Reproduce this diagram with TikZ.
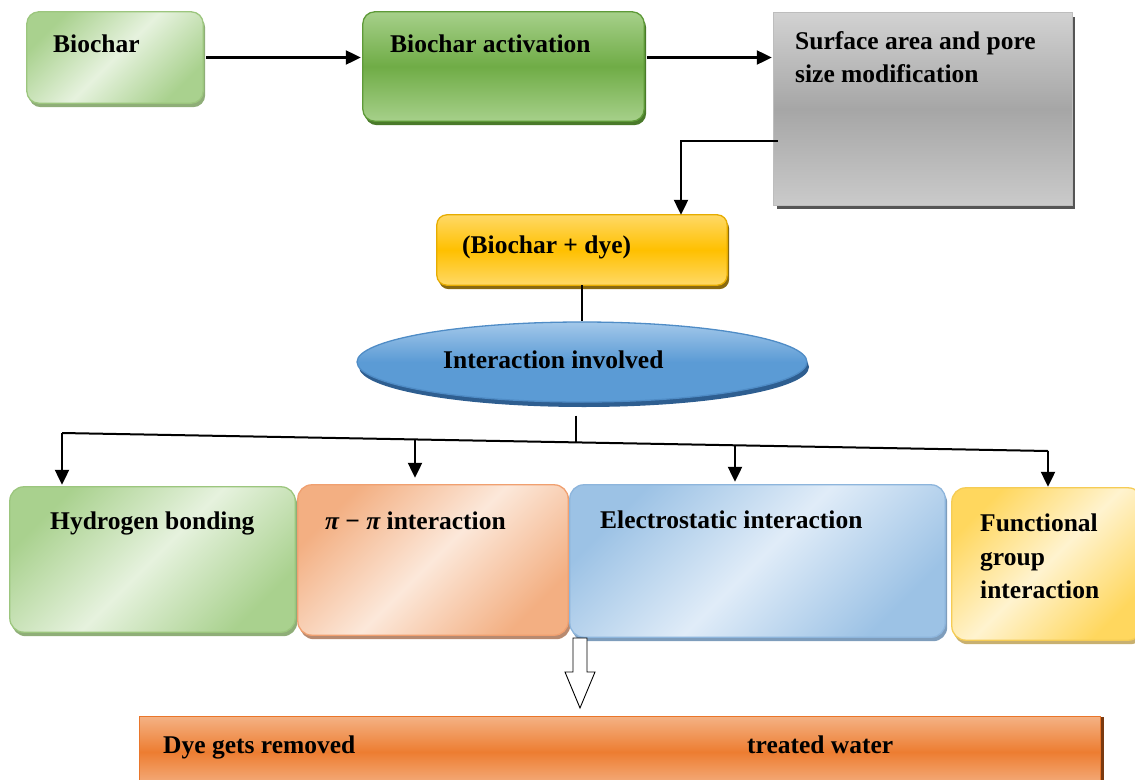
\documentclass[tikz,border=0pt]{standalone}
\usepackage{fontspec}
\setmainfont{Liberation Serif}
\usetikzlibrary{arrows.meta,shapes.geometric,shadows}
\definecolor{lgA}{HTML}{A9D18E}
\definecolor{lgB}{HTML}{E6F2DE}
\definecolor{lgE}{HTML}{9CC67E}
\definecolor{lgS}{HTML}{8FAE78}
\definecolor{dgM}{HTML}{6FAC46}
\definecolor{dgT}{HTML}{A6D08A}
\definecolor{dgE}{HTML}{5E9A38}
\definecolor{dgS}{HTML}{4A7A2A}
\definecolor{gyT}{HTML}{D2D2D2}
\definecolor{gyM}{HTML}{A6A6A6}
\definecolor{gyB}{HTML}{CACACA}
\definecolor{gyE}{HTML}{BDBDBD}
\definecolor{gyS}{HTML}{555555}
\definecolor{yeT}{HTML}{FFD966}
\definecolor{yeM}{HTML}{FFC000}
\definecolor{yeE}{HTML}{E6AC00}
\definecolor{yeS}{HTML}{8A6A10}
\definecolor{blT}{HTML}{A3C8EA}
\definecolor{blM}{HTML}{5B9BD5}
\definecolor{blE}{HTML}{4F8CC6}
\definecolor{blS}{HTML}{2E5E90}
\definecolor{orA}{HTML}{F3AF82}
\definecolor{orB}{HTML}{FCE8DA}
\definecolor{orE}{HTML}{F0A070}
\definecolor{orS}{HTML}{B88A70}
\definecolor{lbA}{HTML}{9CC2E5}
\definecolor{lbB}{HTML}{E0ECF8}
\definecolor{lbE}{HTML}{8DB5DC}
\definecolor{lbS}{HTML}{7E9DBC}
\definecolor{lyA}{HTML}{FFD75E}
\definecolor{lyB}{HTML}{FFF3CF}
\definecolor{lyE}{HTML}{F5CC55}
\definecolor{lyS}{HTML}{C8B070}
\definecolor{obT}{HTML}{F4B183}
\definecolor{obM}{HTML}{ED7D31}
\definecolor{obE}{HTML}{E9762B}
\definecolor{obS}{HTML}{7A3A10}
% #1 node name, #2 shadow colour, #3 shading options, #4 edge colour, #5 corner radius, #6 shadow shift
\newcommand\mkbox[6]{%
  \fill[#2, rounded corners=#5]
    ([shift={#6}]#1.north west) -- ([shift={#6}]#1.north east) --
    ([shift={#6}]#1.south east) -- ([shift={#6}]#1.south west) -- cycle;
  \shade[#3, draw=#4, line width=1.3pt, rounded corners=#5]
    (#1.north west) -- (#1.north east) -- (#1.south east) -- (#1.south west) -- cycle;}
\begin{document}
\begin{tikzpicture}[x=1pt,y=-1pt,
  bx/.style={inner sep=0pt, draw=none},
  vshade/.style n args={3}{top color=#1, bottom color=#3, middle color=#2},
  dshade/.style 2 args={left color=#1, right color=#1, middle color=#2, shading angle=45},
  lbl/.style={anchor=base west, inner sep=0pt, font=\bfseries\fontsize{25.5}{30}\selectfont},
  conn/.style={line width=2.2pt, -{Triangle[length=15pt,width=14pt]}},
  plain/.style={line width=2pt}]
\useasboundingbox (0,0) rectangle (1135,779);

% anchor nodes of the boxes
\node[bx, minimum width=176, minimum height=91] (b1) at (115,57.5) {};
\node[bx, minimum width=281, minimum height=109] (b2) at (503.5,66.5) {};
\node[bx, minimum width=298, minimum height=192] (b3) at (923,109) {};
\node[bx, minimum width=290, minimum height=70] (b4) at (582,250) {};
\node[bx, minimum width=285, minimum height=145] (h) at (152.5,559.5) {};
\node[bx, minimum width=270, minimum height=150] (p) at (433,560) {};
\node[bx, minimum width=375, minimum height=152] (e) at (757.5,561) {};
\node[bx, minimum width=190, minimum height=152] (f) at (1047,564) {};
\node[bx, minimum width=960, minimum height=70] (bar) at (620,752) {};

% box bodies
\mkbox{b1}{lgS}{dshade={lgA}{lgB}}{lgE}{12pt}{(2pt,-4pt)}
\mkbox{b2}{dgS}{vshade={dgT}{dgM}{dgT}}{dgE}{12pt}{(2pt,-4pt)}
\mkbox{b3}{gyS}{vshade={gyT}{gyM}{gyB}}{gyE}{0pt}{(3pt,-4pt)}
\mkbox{b4}{yeS}{vshade={yeT}{yeM}{yeT}}{yeE}{10pt}{(2pt,-4pt)}
\mkbox{h}{lgS}{dshade={lgA}{lgB}}{lgE}{14pt}{(2pt,-4pt)}
\mkbox{p}{orS}{dshade={orA}{orB}}{orE}{14pt}{(2pt,-4pt)}
\mkbox{e}{lbS}{dshade={lbA}{lbB}}{lbE}{14pt}{(2pt,-4pt)}
\mkbox{f}{lyS}{dshade={lyA}{lyB}}{lyE}{14pt}{(2pt,-4pt)}
\mkbox{bar}{obS}{vshade={obT}{obM}{obT}}{obE}{0pt}{(4pt,0pt)}

\node[ellipse, draw=blE, line width=1.3pt, inner sep=0pt,
      drop shadow={shadow xshift=2pt,shadow yshift=-5pt,fill=blS,opacity=1},
      vshade={blT}{blM}{blM}, minimum width=450, minimum height=80] (ell) at (582,362) {};

% texts
\node[lbl] (t1) at (53,52) {Biochar};
\node[lbl] (t2) at (390,52) {Biochar activation};
\node[lbl] (t3) at (795,49) {Surface area and pore};
\node[lbl] (t3b) at (795,82) {size modification};
\node[lbl] (t4) at (462,253) {(Biochar + dye)};
\node[lbl] (t5) at (443,368) {Interaction involved};
\node[lbl] (th) at (50,529) {Hydrogen bonding};
\node[lbl] (tp) at (325,529) {{\itshape π} − {\itshape π} interaction};
\node[lbl] (te) at (600,528) {Electrostatic interaction};
\node[lbl] (tf1) at (980,531) {Functional};
\node[lbl] (tf2) at (980,565) {group};
\node[lbl] (tf3) at (980,598) {interaction};
\node[lbl] (tb1) at (163,753) {Dye gets removed};
\node[lbl] (tb2) at (747,753) {treated water};

% connectors
\draw[conn, shorten >=2pt] ([xshift=3pt]b1.east) -- (b1.east -| b2.west);
\draw[conn, shorten >=2pt] ([xshift=3pt]b2.east |- b1.east) -- (b3.west |- b1.east);
\draw[conn] ([xshift=4pt,yshift=-32pt]b3.west) -| ([xshift=99pt]b4.north);
\draw[plain] (b4.south) -- (ell.north);

\coordinate (j) at (576,442);
\coordinate (busL) at (62,433);
\coordinate (busR) at (1048,451);
\coordinate (bp) at (415,439.5);
\coordinate (be) at (735,445.5);
\draw[plain] ([xshift=-6pt,yshift=-13pt]ell.south) -- (j);
\draw[plain] (busL) -- (busR);
\draw[conn, shorten >=2pt] (busL) -- (busL |- h.north);
\draw[conn, shorten >=7pt] (bp) -- (bp |- p.north);
\draw[conn, shorten >=3pt] (be) -- (be |- e.north);
\draw[conn, shorten >=1pt] (busR) -- (busR |- f.north);

% hollow arrow
\coordinate (ha) at (580,638);
\draw[line width=0.9pt, fill=white]
  ([xshift=-7pt]ha) -- ++(0,34) -- ++(-8,0) -- (580,708) -- (595,672) -- ++(-8,0) -- ([xshift=7pt]ha) -- cycle;
\end{tikzpicture}
\end{document}
